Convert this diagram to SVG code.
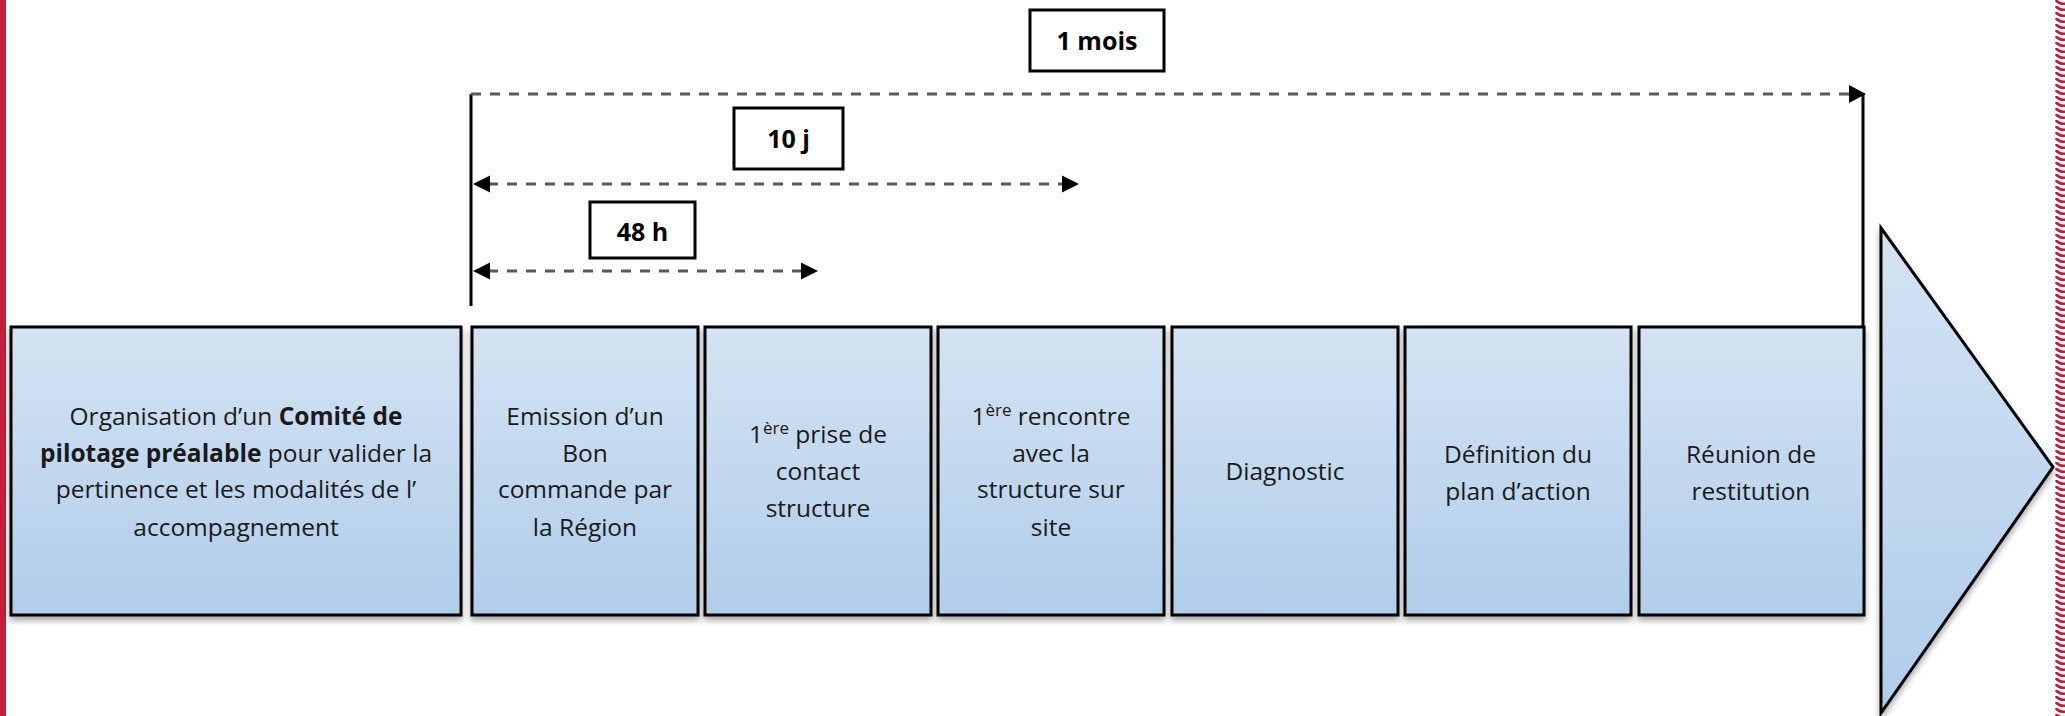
<svg xmlns="http://www.w3.org/2000/svg" width="2065" height="716" viewBox="0 0 2065 716">
<defs>
<linearGradient id="boxg" x1="0" y1="0" x2="0" y2="1">
<stop offset="0" stop-color="#d4e3f3"/>
<stop offset="1" stop-color="#b0cdea"/>
</linearGradient>
<filter id="sh" x="-10%" y="-10%" width="120%" height="125%">
<feDropShadow dx="0" dy="4" stdDeviation="3" flood-color="#000" flood-opacity="0.35"/>
</filter>
<pattern id="wave" x="2055" y="0" width="12" height="6" patternUnits="userSpaceOnUse">
<path d="M1.5,1 Q5,4.5 10.5,3.5" fill="none" stroke="#c8193c" stroke-width="2.6" stroke-linecap="round"/>
</pattern>
<style>
.box{fill:url(#boxg);stroke:#000;stroke-width:3;filter:url(#sh)}
.t{font-family:"Open Sans",Lato,"Liberation Sans",sans-serif;font-size:24.5px;fill:#1a1a1a;text-anchor:middle}
.b{font-weight:bold}
.lab{fill:#fff;stroke:#000;stroke-width:3}
.lt{font-family:"Open Sans",Lato,"Liberation Sans",sans-serif;font-size:25px;font-weight:bold;fill:#000;text-anchor:middle}
.dash{fill:none;stroke:#595959;stroke-width:3;stroke-dasharray:10 9}
.sol{fill:none;stroke:#000;stroke-width:3}
.sup{font-size:17px}
</style>
</defs>
<rect x="0" y="0" width="2065" height="716" fill="#fff"/>
<rect x="0" y="0" width="6" height="716" fill="#c41e3a"/>
<rect x="2055" y="0" width="10" height="716" fill="url(#wave)"/>

<g id="connectors">
<line class="sol" x1="471" y1="94" x2="471" y2="306"/>
<line class="sol" x1="1863" y1="94" x2="1863" y2="327"/>
<line class="dash" x1="471" y1="94" x2="1851" y2="94"/>
<path d="M1849,85 L1866,94 L1849,103 Z" fill="#000"/>
<line class="dash" x1="488" y1="184" x2="1063" y2="184"/>
<path d="M473,184 L490,175.5 L490,192.5 Z" fill="#000"/>
<path d="M1062,175.5 L1079,184 L1062,192.5 Z" fill="#000"/>
<line class="dash" x1="488" y1="271" x2="802" y2="271"/>
<path d="M473,271 L490,262.5 L490,279.5 Z" fill="#000"/>
<path d="M801,262.5 L818,271 L801,279.5 Z" fill="#000"/>
</g>

<g id="label-1mois">
<rect class="lab" x="1030" y="10" width="134" height="61"/>
<text class="lt" x="1097" y="50">1 mois</text>
</g>
<g id="label-10j">
<rect class="lab" x="734" y="108" width="109" height="61"/>
<text class="lt" x="788.5" y="148">10 j</text>
</g>
<g id="label-48h">
<rect class="lab" x="590" y="202" width="105" height="56"/>
<text class="lt" x="642.5" y="241">48 h</text>
</g>

<g id="node-comite">
<rect class="box" x="11" y="327" width="450" height="288"/>
<text class="t" x="236" y="425">Organisation d’un <tspan class="b">Comité de</tspan></text>
<text class="t" x="236" y="462"><tspan class="b">pilotage préalable</tspan> pour valider la</text>
<text class="t" x="236" y="498">pertinence et les modalités de l’</text>
<text class="t" x="236" y="536">accompagnement</text>
</g>
<g id="node-emission">
<rect class="box" x="472" y="327" width="226" height="288"/>
<text class="t" x="585" y="425">Emission d’un</text>
<text class="t" x="585" y="462">Bon</text>
<text class="t" x="585" y="498">commande par</text>
<text class="t" x="585" y="536">la Région</text>
</g>
<g id="node-contact">
<rect class="box" x="705" y="327" width="226" height="288"/>
<text class="t" x="818" y="443">1<tspan class="sup" dy="-9">ère</tspan><tspan dy="9"> prise de</tspan></text>
<text class="t" x="818" y="480">contact</text>
<text class="t" x="818" y="517">structure</text>
</g>
<g id="node-rencontre">
<rect class="box" x="938" y="327" width="226" height="288"/>
<text class="t" x="1051" y="425">1<tspan class="sup" dy="-9">ère</tspan><tspan dy="9"> rencontre</tspan></text>
<text class="t" x="1051" y="462">avec la</text>
<text class="t" x="1051" y="498">structure sur</text>
<text class="t" x="1051" y="536">site</text>
</g>
<g id="node-diagnostic">
<rect class="box" x="1172" y="327" width="226" height="288"/>
<text class="t" x="1285" y="480">Diagnostic</text>
</g>
<g id="node-plan">
<rect class="box" x="1405" y="327" width="226" height="288"/>
<text class="t" x="1518" y="463">Définition du</text>
<text class="t" x="1518" y="500">plan d’action</text>
</g>
<g id="node-restitution">
<rect class="box" x="1639" y="327" width="225" height="288"/>
<text class="t" x="1751" y="463">Réunion de</text>
<text class="t" x="1751" y="500">restitution</text>
</g>
<g id="node-arrow">
<path class="box" d="M1881,228 L2053,467 L1881,713 Z"/>
</g>
</svg>
